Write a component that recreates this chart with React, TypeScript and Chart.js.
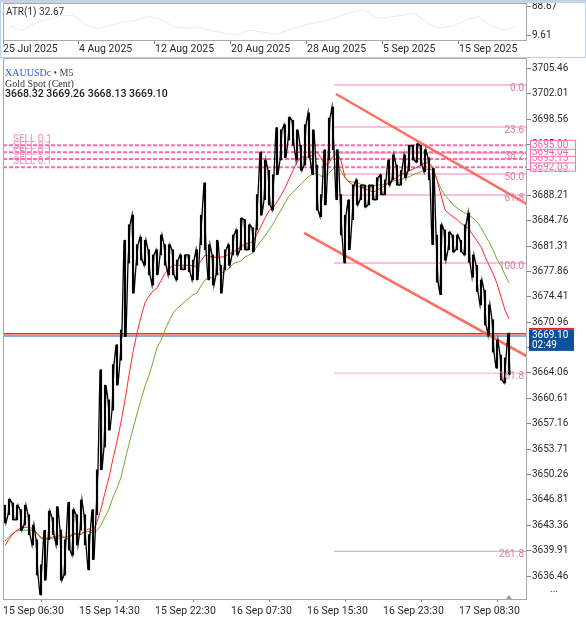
import React, { useEffect, useRef } from 'react';
import { Chart, registerables } from 'chart.js';
Chart.register(...registerables);

// ---------------- data ----------------
const FONT = 'Roboto, "DejaVu Sans", sans-serif';

// M5 price samples (high / low), one per 5 bars
const priceHigh = [
  3646.1, 3646.9, 3646.4, 3646.1, 3645.5, 3646.1, 3644.8, 3643.4, 3641.4, 3638.0,
  3642.7, 3645.3, 3644.4, 3645.9, 3642.7, 3641.4, 3646.5, 3645.5, 3644.8, 3646.8,
  3644.8, 3642.1, 3645.5, 3650.9, 3664.5, 3662.4, 3660.4, 3665.2, 3667.9, 3669.9,
  3682.1, 3684.2, 3685.5, 3681.5, 3682.5, 3682.1, 3680.8, 3680.1, 3680.8, 3682.8,
  3681.5, 3681.5, 3680.8, 3679.4, 3680.1, 3680.1, 3680.1, 3679.4, 3680.8, 3685.5,
  3689.9, 3681.5, 3680.1, 3682.1, 3678.7, 3680.8, 3681.5, 3682.8, 3683.5, 3685.1,
  3684.9, 3684.2, 3683.8, 3688.3, 3694.1, 3693.0, 3691.6, 3691.0, 3697.4, 3697.1,
  3697.8, 3698.8, 3698.4, 3697.1, 3695.0, 3697.8, 3699.4, 3697.1, 3692.3, 3688.3,
  3694.4, 3698.7, 3700.2, 3694.4, 3688.3, 3685.5, 3687.6, 3689.6, 3690.3, 3689.6,
  3689.6, 3689.6, 3689.6, 3690.6, 3691.0, 3690.3, 3693.0, 3693.7, 3692.3, 3691.6,
  3693.7, 3695.0, 3695.0, 3695.2, 3695.0, 3694.4, 3693.3, 3691.9, 3682.8, 3684.2,
  3683.5, 3683.2, 3682.8, 3682.8, 3682.1, 3684.2, 3685.8, 3680.1, 3678.7, 3676.7,
  3675.3, 3673.3, 3671.3, 3668.5, 3666.5, 3666.1, 3669.5,
];
const priceLow = [
  3643.7, 3644.8, 3644.1, 3644.1, 3642.7, 3643.4, 3642.1, 3640.7, 3636.6, 3633.9,
  3635.9, 3641.4, 3642.1, 3640.7, 3635.9, 3636.6, 3640.0, 3639.3, 3640.7, 3642.7,
  3640.7, 3637.3, 3638.7, 3644.8, 3650.9, 3654.0, 3656.3, 3659.0, 3662.4, 3665.8,
  3669.0, 3679.0, 3674.9, 3678.7, 3679.4, 3678.7, 3677.4, 3676.0, 3677.4, 3680.1,
  3678.7, 3677.4, 3677.4, 3676.7, 3678.1, 3678.1, 3677.8, 3676.7, 3676.7, 3681.5,
  3680.8, 3676.7, 3676.0, 3677.4, 3674.9, 3678.1, 3678.7, 3680.1, 3680.1, 3680.8,
  3680.8, 3680.8, 3680.5, 3683.5, 3685.5, 3687.6, 3686.9, 3686.2, 3691.0, 3693.0,
  3693.3, 3695.7, 3695.0, 3693.0, 3691.6, 3692.3, 3693.3, 3691.0, 3686.2, 3685.3,
  3686.9, 3693.0, 3694.4, 3687.6, 3682.8, 3679.0, 3680.8, 3684.9, 3686.9, 3687.6,
  3686.6, 3686.9, 3687.6, 3687.6, 3688.3, 3688.3, 3689.6, 3690.3, 3689.6, 3689.6,
  3690.6, 3691.6, 3693.0, 3692.7, 3692.3, 3691.4, 3690.3, 3681.5, 3676.4, 3674.7,
  3679.4, 3680.8, 3680.5, 3680.8, 3680.5, 3680.1, 3679.1, 3677.1, 3675.1, 3673.3,
  3670.6, 3669.2, 3666.9, 3664.7, 3663.1, 3662.7, 3663.8,
];
// fast moving average (red)
const maFast = [
  3640.6, 3641.5, 3642.2, 3642.7, 3643.0, 3643.1, 3643.1, 3642.9, 3642.3, 3641.6,
  3641.4, 3641.6, 3641.8, 3641.8, 3642.1, 3641.6, 3641.6, 3642.3, 3642.2, 3642.1,
  3642.6, 3642.9, 3642.5, 3643.8, 3645.6, 3647.8, 3649.9, 3652.4, 3654.8, 3657.4,
  3660.4, 3663.8, 3666.9, 3669.5, 3671.7, 3673.6, 3674.5, 3675.2, 3675.6, 3676.6,
  3677.6, 3678.2, 3678.7, 3678.7, 3678.7, 3678.7, 3678.7, 3678.6, 3678.5, 3679.3,
  3680.1, 3679.9, 3679.8, 3679.8, 3679.8, 3679.9, 3680.2, 3680.5, 3680.8, 3681.2,
  3681.6, 3681.7, 3681.9, 3682.9, 3684.0, 3685.1, 3686.1, 3686.5, 3687.3, 3688.2,
  3689.2, 3690.4, 3691.6, 3692.7, 3693.4, 3693.4, 3693.4, 3693.7, 3694.1, 3693.3,
  3692.3, 3692.6, 3693.5, 3693.9, 3693.0, 3690.6, 3690.0, 3689.6, 3689.5, 3689.3,
  3689.1, 3688.9, 3688.6, 3688.9, 3689.2, 3689.5, 3689.9, 3690.3, 3690.7, 3691.0,
  3691.2, 3691.5, 3691.8, 3692.0, 3692.3, 3692.6, 3692.6, 3692.0, 3690.3, 3688.2,
  3686.2, 3685.7, 3685.3, 3684.9, 3684.4, 3684.0, 3683.6, 3682.8, 3682.0, 3681.2,
  3679.9, 3678.7, 3677.6, 3676.2, 3674.4, 3672.6, 3671.4,
];
// slow moving average (green)
const maSlow = [
  3641.2, 3641.8, 3642.3, 3642.6, 3642.7, 3642.7, 3642.7, 3642.7, 3642.2, 3641.8,
  3641.6, 3641.6, 3641.6, 3641.6, 3641.6, 3641.8, 3641.9, 3642.1, 3642.2, 3642.3,
  3642.5, 3642.5, 3642.3, 3642.7, 3643.4, 3644.5, 3645.6, 3647.2, 3648.4, 3649.9,
  3652.2, 3654.4, 3656.5, 3658.5, 3660.4, 3662.3, 3663.7, 3665.6, 3667.5, 3668.5,
  3669.9, 3671.1, 3672.2, 3672.8, 3673.3, 3673.8, 3674.2, 3674.7, 3674.9, 3675.9,
  3676.7, 3677.0, 3677.1, 3677.4, 3677.6, 3677.9, 3678.3, 3678.9, 3679.1, 3679.3,
  3679.8, 3680.1, 3680.4, 3681.3, 3682.0, 3682.7, 3683.5, 3684.3, 3685.3, 3686.2,
  3687.2, 3688.1, 3688.6, 3689.2, 3689.7, 3690.3, 3690.8, 3691.1, 3691.2, 3690.8,
  3690.8, 3691.2, 3691.8, 3692.3, 3691.5, 3690.6, 3690.1, 3690.0, 3689.9, 3689.7,
  3689.5, 3689.3, 3689.5, 3689.6, 3689.6, 3689.7, 3690.0, 3690.1, 3690.3, 3690.3,
  3690.6, 3690.7, 3691.0, 3691.2, 3691.4, 3691.6, 3691.8, 3691.6, 3690.3, 3689.1,
  3688.2, 3687.6, 3686.9, 3686.5, 3686.1, 3685.8, 3685.5, 3685.1, 3684.6, 3683.8,
  3682.8, 3681.9, 3680.8, 3679.5, 3678.6, 3677.4, 3676.3,
];

const yTickValues = [
  3636.46, 3639.91, 3643.36, 3646.81, 3650.26, 3653.71, 3657.16, 3660.61, 3664.06, 3667.51, 3670.96,
  3674.41, 3677.86, 3681.31, 3684.76, 3688.21, 3691.66, 3695.11, 3698.56, 3702.01, 3705.46,
];
const yTickLabels = [
  '3636.46', '3639.91', '3643.36', '3646.81', '3650.26', '3653.71', '3657.16', '3660.61', '3664.06', '3667.51', '3670.96',
  '3674.41', '3677.86', '3681.31', '3684.76', '3688.21', '3691.66', '3695.11', '3698.56', '3702.01', '3705.46',
];
const xTickIndex = [-0.5, 18.5, 37.5, 56.5, 75.5, 94.5, 113.5];
const xTickLabels = ['15 Sep 06:30', '15 Sep 14:30', '15 Sep 22:30', '16 Sep 07:30', '16 Sep 15:30', '16 Sep 23:30', '17 Sep 08:30'];
const X_MIN = -0.5;
const X_MAX = 130.5;
const Y_MIN = 3633.35;
const Y_MAX = 3706.86;

const sellLevels = [3695.0, 3694.04, 3693.15, 3692.03];
const sellLabels = ['3695.00', '3694.04', '3693.15', '3692.03'];
const sellText = 'SELL 0.1';

const fibStart = 82.3;
const fibPrices = [3703.2, 3697.49, 3693.96, 3691.1, 3688.24, 3679.0, 3664.04, 3639.84];
const fibLabels = ['0.0', '23.6', '38.2', '50.0', '61.8', '100.0', '161.8', '261.8'];

const upperTrend = [{ x: 82.75, y: 3701.97 }, { x: 130.5, y: 3687.01 }];
const lowerTrend = [{ x: 74.75, y: 3683.11 }, { x: 130.5, y: 3666.33 }];

const bidPrice = 3669.1;
const askPrice = 3669.4;
const bidLabel = '3669.10';
const timeLeft = '02:49';
const symbolName = 'XAUUSDc';
const periodName = ' \u2022 M5';
const symbolDesc = 'Gold Spot (Cent)';
const ohlc = ['3668.32', '3669.26', '3668.13', '3669.10'];

// ATR(1) sub-window, daily values
const atrValues = [
  37, 21, 43, 54, 65, 65, 40, 26, 37, 46, 51, 62, 54, 32, 29, 32, 21, 15, 10, 23,
  18, 12, 23, 35, 43, 51, 62, 73, 82, 57, 60, 65, 71, 43, 29, 35, 51, 62, 37, 23, 32.67,
];
const atrTickIndex = [-0.5, 5.5, 11.5, 17.5, 23.5, 29.5, 35.5];
const atrTickLabels = ['25 Jul 2025', '4 Aug 2025', '12 Aug 2025', '20 Aug 2025', '28 Aug 2025', '5 Sep 2025', '15 Sep 2025'];
const atrYTicks = [9.61, 88.67];
const atrYLabels = ['9.61', '88.67'];
const atrName = 'ATR(1)';

// ---------------- plugins ----------------
const mainOverlay = {
  id: 'mainOverlay',
  afterDatasetsDraw(chart: any) {
    const { ctx, chartArea: a, scales } = chart;
    const y = scales.y;
    ctx.save();
    ctx.beginPath();
    ctx.rect(a.left, a.top, a.right - a.left, a.bottom - a.top);
    ctx.clip();
    ctx.font = `10px ${FONT}`;
    ctx.textBaseline = 'middle';
    // fibo labels
    ctx.textAlign = 'right';
    ctx.fillStyle = '#d97ca8';
    fibPrices.forEach((p, k) => ctx.fillText(fibLabels[k], a.right - 3, y.getPixelForValue(p) + 3.5));
    // sell labels
    ctx.textAlign = 'left';
    ctx.fillStyle = '#e58cb9';
    sellLevels.forEach((p) => ctx.fillText(sellText, a.left + 10, y.getPixelForValue(p) - 6));
    // header
    ctx.font = `10px "Liberation Serif", serif`;
    ctx.fillStyle = '#2a5bd7';
    ctx.fillText(symbolName, 5, 15);
    const w = ctx.measureText(symbolName).width;
    ctx.fillStyle = '#444';
    ctx.fillText(periodName, 5 + w, 15);
    ctx.fillStyle = '#333';
    ctx.fillText(symbolDesc, 5, 26);
    ctx.font = `500 10.5px ${FONT}`;
    ctx.fillStyle = '#1a1a1a';
    ctx.fillText(ohlc.join(' '), 5, 36);
    ctx.restore();
  },
  afterDraw(chart: any) {
    const { ctx, chartArea: a, scales } = chart;
    const y = scales.y;
    const x = scales.x;
    ctx.save();
    // frame
    ctx.strokeStyle = '#a8a8a8';
    ctx.lineWidth = 1;
    ctx.strokeRect(a.left + 0.5, a.top + 0.5, a.right - a.left - 1, a.bottom - a.top);
    // sell price boxes
    ctx.font = `10px ${FONT}`;
    ctx.textBaseline = 'middle';
    ctx.textAlign = 'left';
    for (let k = sellLevels.length - 1; k >= 0; k--) {
      const py = y.getPixelForValue(sellLevels[k]) - 0.5;
      ctx.fillStyle = '#ffffff';
      ctx.fillRect(a.right + 3, py - 4.5, 45, 9);
      ctx.strokeStyle = '#ff6fb3';
      ctx.strokeRect(a.right + 3.5, py - 4.5, 45, 9);
      ctx.fillStyle = '#f062a8';
      ctx.fillText(sellLabels[k], a.right + 5, py + 0.5);
    }
    // current price box
    const by = y.getPixelForValue(bidPrice);
    ctx.fillStyle = '#0e4f9e';
    ctx.fillRect(a.right + 2, by - 6, 45, 21);
    ctx.fillStyle = '#e8202a';
    ctx.fillRect(a.right + 2, by - 8, 45, 2);
    ctx.fillStyle = '#ffffff';
    ctx.fillText(bidLabel, a.right + 5, by - 0.5);
    ctx.fillText(timeLeft, a.right + 5, by + 10);
    // ellipsis below the price scale
    ctx.fillStyle = '#333';
    ctx.fillText('...', a.right + 23, a.bottom - 10);
    // shift marker
    const sx = x.getPixelForValue(priceHigh.length - 1);
    ctx.fillStyle = '#9a9a9a';
    ctx.beginPath();
    ctx.moveTo(sx - 3, a.bottom);
    ctx.lineTo(sx + 3, a.bottom);
    ctx.lineTo(sx, a.bottom - 4);
    ctx.closePath();
    ctx.fill();
    ctx.restore();
  },
};

const topOverlay = {
  id: 'topOverlay',
  afterDraw(chart: any) {
    const { ctx, chartArea: a, width, height } = chart;
    ctx.save();
    ctx.fillStyle = '#d2d2d2';
    ctx.fillRect(0, 0, width, 3);
    ctx.strokeStyle = '#a8a8a8';
    ctx.lineWidth = 1;
    ctx.strokeRect(a.left + 0.5, a.top + 0.5, a.right - a.left - 1, a.bottom - a.top - 1);
    ctx.font = `10px ${FONT}`;
    ctx.fillStyle = '#333';
    ctx.textBaseline = 'middle';
    ctx.textAlign = 'left';
    ctx.fillText(`${atrName} ${atrValues[atrValues.length - 1].toFixed(2)}`, 6, 12);
    ctx.strokeStyle = '#b9d3ee';
    ctx.strokeRect(0.5, 0.5, width - 1, height - 1);
    ctx.restore();
  },
};

const noPad = (s: any) => {
  s.paddingTop = 0;
  s.paddingBottom = 0;
  s.paddingLeft = 0;
  s.paddingRight = 0;
};

// ---------------- component ----------------
export default function App() {
  const topRef = useRef<HTMLCanvasElement>(null);
  const mainRef = useRef<HTMLCanvasElement>(null);

  useEffect(() => {
    document.body.style.margin = '0';
    const span = (p: number, from: number) => [{ x: from, y: p }, { x: X_MAX, y: p }];
    const hline = (data: any, color: string, width: number, order: number, dash: number[] = []) => ({
      type: 'line',
      data,
      borderColor: color,
      borderWidth: width,
      borderDash: dash,
      pointRadius: 0,
      fill: false,
      order,
    });

    // price path running through each sample's extremes
    const pricePath: { x: number; y: number }[] = [];
    priceHigh.forEach((h, i) => {
      const l = priceLow[i];
      if (i % 2 === 0) {
        pricePath.push({ x: i - 0.25, y: h }, { x: i + 0.25, y: l });
      } else {
        pricePath.push({ x: i - 0.25, y: l }, { x: i + 0.25, y: h });
      }
    });

    const datasets: any[] = [
      hline(pricePath, '#000000', 1.3, 0),
      {
        type: 'bar',
        data: priceHigh.map((h, i) => ({ x: i, y: [priceLow[i], h] })),
        backgroundColor: '#000000',
        borderWidth: 0,
        barThickness: 1.5,
        order: 0,
      },
      hline(maFast.map((v, i) => ({ x: i, y: v })), '#ff2a2a', 1, 1),
      hline(maSlow.map((v, i) => ({ x: i, y: v })), '#6aad2c', 1, 2),
      hline(upperTrend, 'rgba(255,95,80,0.9)', 2.5, 3),
      hline(lowerTrend, 'rgba(255,95,80,0.9)', 2.5, 3),
      hline(span(bidPrice, X_MIN), '#86acd6', 2, 4),
      hline(span(askPrice, X_MIN), '#ff2020', 1.5, 4),
      ...sellLevels.map((p) => hline(span(p, X_MIN), '#ff69b4', 2, 5, [4, 2])),
      ...fibPrices.map((p, k) =>
        hline(span(p, fibStart), k === 7 ? '#b9a6b0' : k === 6 ? '#ffa6cf' : '#ff7dbb', 1, 6)
      ),
    ];

    const main = new Chart(mainRef.current as HTMLCanvasElement, {
      type: 'bar',
      data: { datasets },
      plugins: [mainOverlay],
      options: {
        responsive: false,
        animation: false,
        devicePixelRatio: 1,
        events: [],
        layout: { padding: { left: 3, right: 0, top: 0, bottom: 0 } },
        plugins: { legend: { display: false }, tooltip: { enabled: false } },
        scales: {
          x: {
            type: 'linear',
            min: X_MIN,
            max: X_MAX,
            offset: false,
            afterBuildTicks: (s: any) => {
              s.ticks = xTickIndex.map((v) => ({ value: v }));
            },
            afterFit: (s: any) => {
              s.height = 26;
              noPad(s);
            },
            grid: { drawOnChartArea: false, drawTicks: true, tickLength: 3, color: '#808080' },
            border: { display: false },
            ticks: {
              autoSkip: false,
              maxRotation: 0,
              align: 'start',
              padding: 3,
              color: '#2a2a2a',
              font: { family: FONT, size: 10.5 },
              callback: (_v: any, i: number) => xTickLabels[i],
            },
          },
          y: {
            type: 'linear',
            position: 'right',
            min: Y_MIN,
            max: Y_MAX,
            afterBuildTicks: (s: any) => {
              s.ticks = yTickValues.map((v) => ({ value: v }));
            },
            afterFit: (s: any) => {
              s.width = 59;
              noPad(s);
            },
            grid: { drawOnChartArea: false, drawTicks: true, tickLength: 4, color: '#808080' },
            border: { display: false },
            ticks: {
              autoSkip: false,
              padding: 1,
              color: '#2a2a2a',
              font: { family: FONT, size: 10 },
              callback: (_v: any, i: number) => yTickLabels[i],
            },
          },
        },
      } as any,
    });

    const top = new Chart(topRef.current as HTMLCanvasElement, {
      type: 'line',
      data: {
        datasets: [
          {
            data: atrValues.map((v, i) => ({ x: i, y: v })),
            borderColor: '#ebebeb',
            borderWidth: 1,
            pointRadius: 0,
            fill: false,
          },
        ],
      },
      plugins: [topOverlay],
      options: {
        responsive: false,
        animation: false,
        devicePixelRatio: 1,
        events: [],
        layout: { padding: { left: 3, right: 0, top: 3, bottom: 0 } },
        plugins: { legend: { display: false }, tooltip: { enabled: false } },
        scales: {
          x: {
            type: 'linear',
            min: -0.5,
            max: 40.87,
            afterBuildTicks: (s: any) => {
              s.ticks = atrTickIndex.map((v) => ({ value: v }));
            },
            afterFit: (s: any) => {
              s.height = 17;
              noPad(s);
            },
            grid: { drawOnChartArea: false, drawTicks: true, tickLength: 3, color: '#808080' },
            border: { display: false },
            ticks: {
              autoSkip: false,
              maxRotation: 0,
              align: 'start',
              padding: -1,
              color: '#2a2a2a',
              font: { family: FONT, size: 10.5 },
              callback: (_v: any, i: number) => atrTickLabels[i],
            },
          },
          y: {
            type: 'linear',
            position: 'right',
            min: -7.33,
            max: 99.96,
            afterBuildTicks: (s: any) => {
              s.ticks = atrYTicks.map((v) => ({ value: v }));
            },
            afterFit: (s: any) => {
              s.width = 59;
              noPad(s);
            },
            grid: { drawOnChartArea: false, drawTicks: true, tickLength: 4, color: '#808080' },
            border: { display: false },
            ticks: {
              autoSkip: false,
              padding: 1,
              color: '#2a2a2a',
              font: { family: FONT, size: 10 },
              callback: (_v: any, i: number) => atrYLabels[i],
            },
          },
        },
      } as any,
    });

    return () => {
      main.destroy();
      top.destroy();
    };
  }, []);

  return (
    <div style={{ position: 'relative', width: 586, height: 625, background: '#fff' }}>
      <canvas ref={topRef} width={586} height={58} style={{ display: 'block' }} />
      <canvas ref={mainRef} width={586} height={567} style={{ display: 'block' }} />
    </div>
  );
}
